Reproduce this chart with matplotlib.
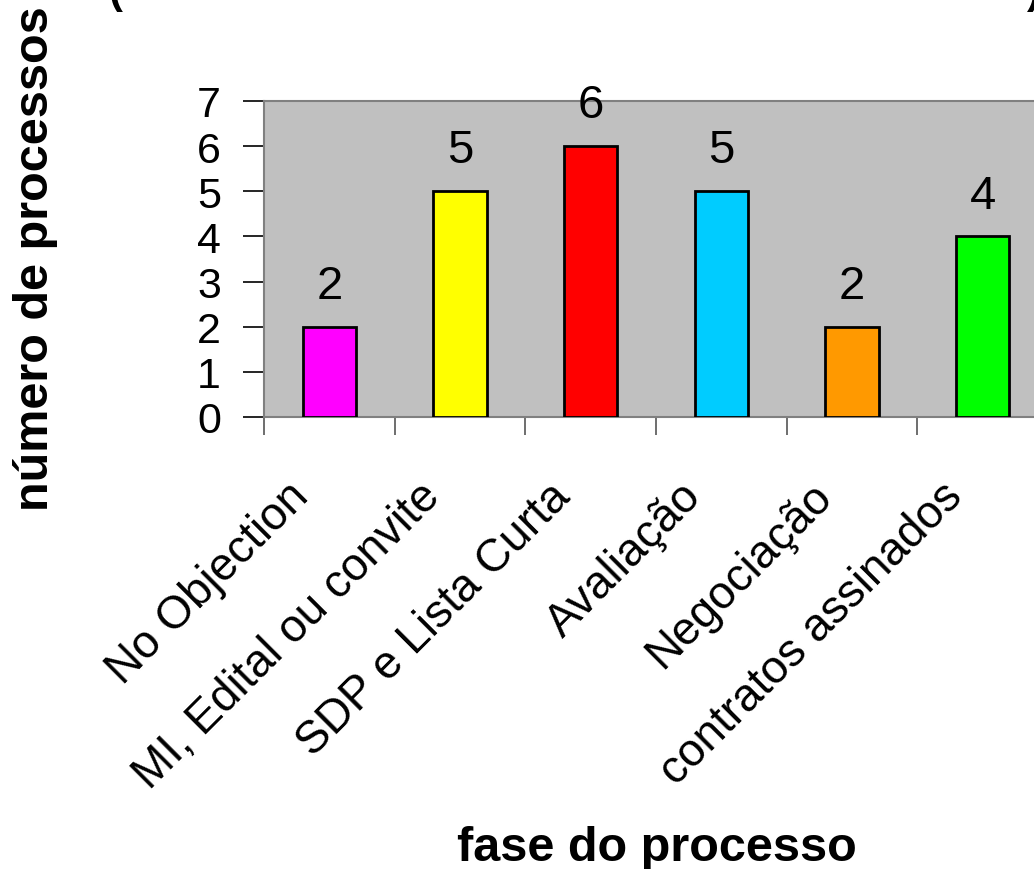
import matplotlib
matplotlib.use("Agg")
import matplotlib.pyplot as plt
import matplotlib.transforms as mtransforms

plt.rcParams['font.family'] = ['Liberation Sans', 'DejaVu Sans']

fases = ["No Objection", "MI, Edital ou convite", "SDP e Lista Curta",
         "Avaliação", "Negociação", "contratos assinados"]
processos = [2, 5, 6, 5, 2, 4]
cores = ["#FF00FF", "#FFFF00", "#FF0000", "#00CCFF", "#FF9900", "#00FF00"]
yticks = [0, 1, 2, 3, 4, 5, 6, 7]

fig = plt.figure(figsize=(10.34, 8.7), dpi=100)
# axes runs past the right edge, as in the cropped original
ax = fig.add_axes([264 / 1034, 1 - 418 / 870, 784 / 1034, 316 / 870])
ax.set_facecolor("#C0C0C0")

x = list(range(len(fases)))
ax.bar(x, processos, width=0.41, color=cores, edgecolor="black", linewidth=2, zorder=3)
for xi, v in zip(x, processos):
    ax.text(xi, v + 0.64, str(v), ha="center", va="baseline", fontsize=34)

ax.set_xlim(-0.5, len(fases) - 0.5)
ax.set_ylim(0, 7)
ax.set_yticks(yticks)
ax.tick_params(axis="y", length=15, width=1.2, color="black", pad=16, labelsize=31)

ax.set_xticks(x)
ax.set_xticklabels(fases, rotation=45, ha="right", va="center",
                   rotation_mode="anchor", fontsize=33)
ax.tick_params(axis="x", which="major", length=0, pad=52)
shift = mtransforms.ScaledTranslation(-0.27, 0, fig.dpi_scale_trans)
for lab in ax.get_xticklabels():
    lab.set_transform(lab.get_transform() + shift)
ax.set_xticks([i - 0.5 for i in range(len(fases) + 1)], minor=True)
ax.tick_params(axis="x", which="minor", length=13, width=1.2, color="#555555")

for s in ax.spines.values():
    s.set_color("#808080")
    s.set_linewidth(1.5)

# bottom of the title's brackets, cut off by the top edge as in the original
fig.text(0.105, 0.9966, "(", fontsize=30, fontweight="bold", ha="left", va="baseline")
fig.text(0.993, 0.9966, ")", fontsize=30, fontweight="bold", ha="left", va="baseline")

fig.text(657 / 1034, 1 - 861 / 870, "fase do processo", fontsize=35,
         fontweight="bold", ha="center", va="baseline")
fig.text(13 / 1034, 1 - 259 / 870, "número de processos", fontsize=35,
         fontweight="bold", rotation=90, ha="left", va="center")

fig.savefig("out.png", dpi=100)
